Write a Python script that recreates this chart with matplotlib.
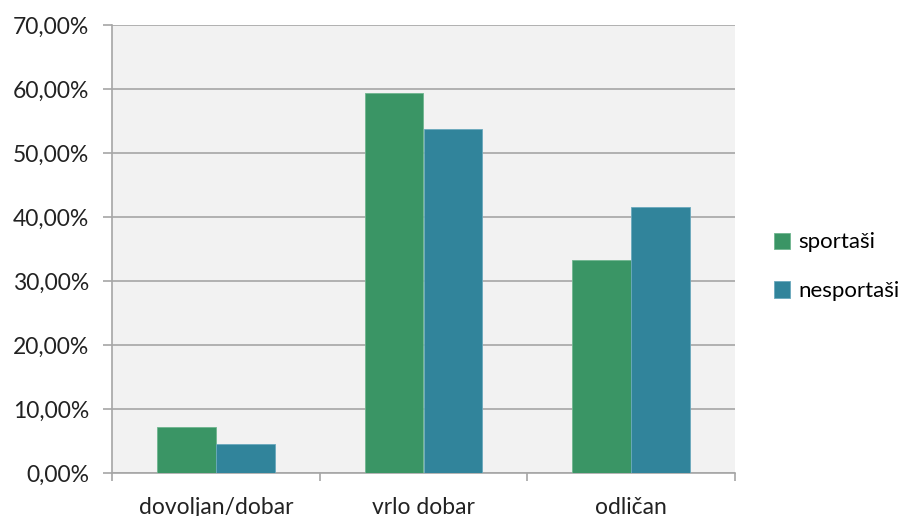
import numpy as np
import matplotlib
matplotlib.use("Agg")
import matplotlib.pyplot as plt
from matplotlib.ticker import FuncFormatter, FixedLocator

categories = ["dovoljan/dobar", "vrlo dobar", "odličan"]
sportasi = [7.2, 59.4, 33.3]
nesportasi = [4.5, 53.7, 41.6]
series_names = ["sportaši", "nesportaši"]
colors = ["#3a9565", "#31849b"]

plt.rcParams.update({"font.family": ["Lato", "DejaVu Sans"], "font.size": 16.5})

fig = plt.figure(figsize=(9.11, 5.16), dpi=100)
ax = fig.add_axes([112 / 911, 1 - 473 / 516, (735 - 112) / 911, (473 - 25) / 516])

x = np.arange(len(categories))
w = 0.284
ax.bar(x - w / 2, sportasi, w, color=colors[0], edgecolor="#6fb58f", linewidth=0.6, label=series_names[0], zorder=3)
ax.bar(x + w / 2, nesportasi, w, color=colors[1], edgecolor="#6aa9bd", linewidth=0.6, label=series_names[1], zorder=3)

ax.set_facecolor("#f2f2f2")
ax.set_xlim(-0.5, len(categories) - 0.5)
ax.set_ylim(0, 70)
ax.set_yticks(np.arange(0, 71, 10))
ax.yaxis.set_major_formatter(FuncFormatter(lambda v, p: f"{v:.2f}%".replace(".", ",")))
ax.grid(axis="y", color="#a6a6a6", linewidth=1.2, zorder=0)

ax.set_xticks(x)
ax.set_xticklabels(categories)
ax.xaxis.set_minor_locator(FixedLocator(np.arange(-0.5, len(categories), 1)))
ax.tick_params(axis="x", which="major", length=0, pad=17)
ax.tick_params(axis="x", which="minor", length=6, color="#a6a6a6", width=1.2)
ax.tick_params(axis="y", length=6.5, color="#a6a6a6", width=1.2, pad=10)
ax.tick_params(labelcolor="#222222")

for s in ["top", "right"]:
    ax.spines[s].set_visible(False)
for s in ["left", "bottom"]:
    ax.spines[s].set_color("#a6a6a6")
    ax.spines[s].set_linewidth(1.2)

ax.legend(loc="center left", bbox_to_anchor=(1.03, 0.46), frameon=False,
          handlelength=0.75, handleheight=0.75, handletextpad=0.35, labelspacing=1.3,
          fontsize=16)

fig.savefig("out.png", dpi=100, facecolor="white")
